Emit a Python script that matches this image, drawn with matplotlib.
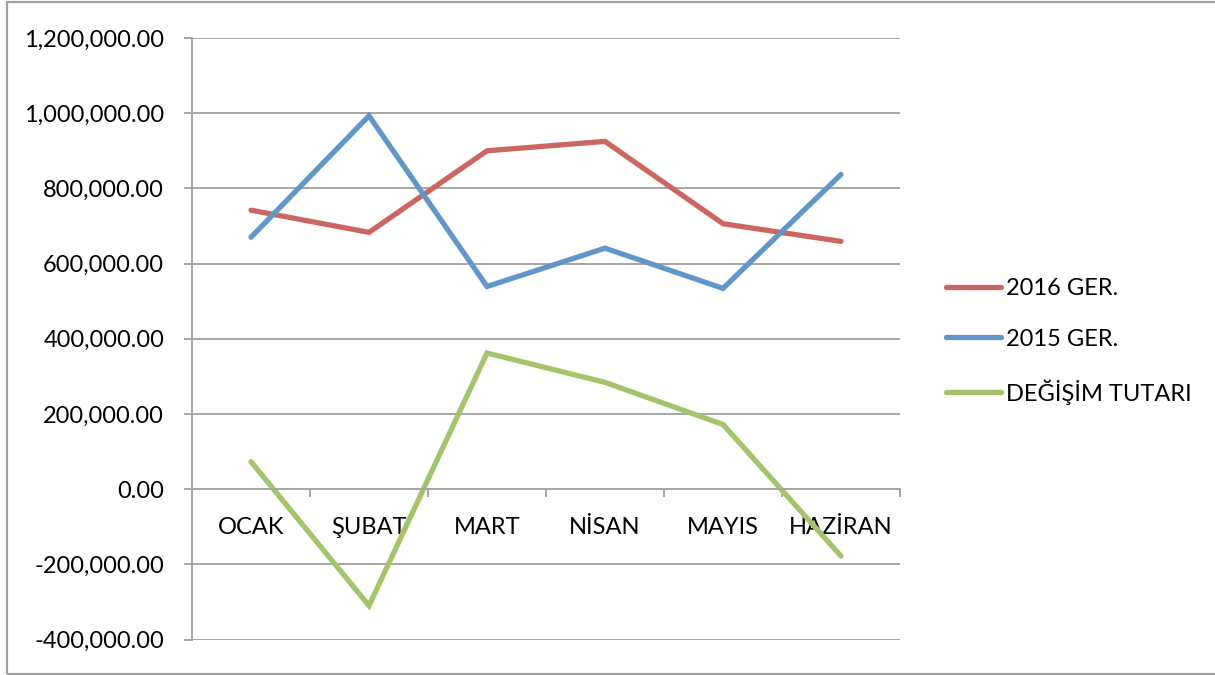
import matplotlib.pyplot as plt
from matplotlib.patches import Rectangle
from matplotlib.ticker import FuncFormatter, FixedLocator

# Data
months = ["OCAK", "ŞUBAT", "MART", "NİSAN", "MAYIS", "HAZİRAN"]
ger_2016 = [742000, 683000, 900000, 925000, 706000, 659000]
ger_2015 = [670000, 993000, 539000, 641000, 534000, 837000]
degisim = [73000, -310000, 362000, 284000, 172000, -178000]
series_names = ["2016 GER.", "2015 GER.", "DEĞİŞİM TUTARI"]
series_colors = ["#CC6660", "#6096C8", "#A3C46A"]
y_ticks = [-400000, -200000, 0, 200000, 400000, 600000, 800000, 1000000, 1200000]

plt.rcParams['font.family'] = ['Lato', 'DejaVu Sans']
W, H = 1215, 675
grid_color = "#A6A6A6"
fs = 17

fig = plt.figure(figsize=(W / 100, H / 100), dpi=100)
ax = fig.add_axes([192 / W, 1 - 639.5 / H, (900 - 192) / W, (639.5 - 38) / H])

# chart border
fig.patches.append(Rectangle((7 / W, 1.5 / H), 1.2, (673 - 1.5) / H, transform=fig.transFigure,
                             fill=False, edgecolor="#A0A0A0", linewidth=1.6, zorder=0))

x = list(range(len(months)))
for vals, name, col in zip([ger_2016, ger_2015, degisim], series_names, series_colors):
    ax.plot(x, vals, color=col, linewidth=3.8, solid_capstyle='round',
            solid_joinstyle='miter', label=name, zorder=2)

ax.set_xlim(-0.5, len(months) - 0.5)
ax.set_ylim(y_ticks[0], y_ticks[-1])
ax.set_yticks(y_ticks)
ax.yaxis.set_major_formatter(FuncFormatter(lambda v, p: f"{v:,.2f}"))
ax.grid(axis='y', color=grid_color, linewidth=1.4, zorder=0)
ax.set_axisbelow(True)

for s in ["top", "right"]:
    ax.spines[s].set_visible(False)
ax.spines["left"].set_color(grid_color)
ax.spines["left"].set_linewidth(1.4)
ax.spines["bottom"].set_position(("data", 0))
ax.spines["bottom"].set_color(grid_color)
ax.spines["bottom"].set_linewidth(1.4)

# category boundaries as ticks, names as minor tick labels
ax.xaxis.set_major_locator(FixedLocator([i - 0.5 for i in range(len(months) + 1)]))
ax.xaxis.set_minor_locator(FixedLocator(x))
ax.set_xticklabels([], minor=False)
ax.set_xticklabels(months, minor=True)
ax.tick_params(axis='x', which='major', direction='out', length=6, width=1.4, color=grid_color)
ax.tick_params(axis='x', which='minor', length=0, pad=20, labelsize=fs)
ax.tick_params(axis='y', direction='out', length=6, width=1.4, color=grid_color, pad=14, labelsize=fs)
for lab in ax.get_xticklabels(minor=True):
    lab.set_zorder(5)

fig.legend(loc='upper left', bbox_to_anchor=(946 / W, 1 - 278 / H), frameon=False,
           fontsize=fs, handlelength=2.35, handletextpad=0.2, labelspacing=1.25,
           borderpad=0, borderaxespad=0)

fig.savefig("out.png", dpi=100)
